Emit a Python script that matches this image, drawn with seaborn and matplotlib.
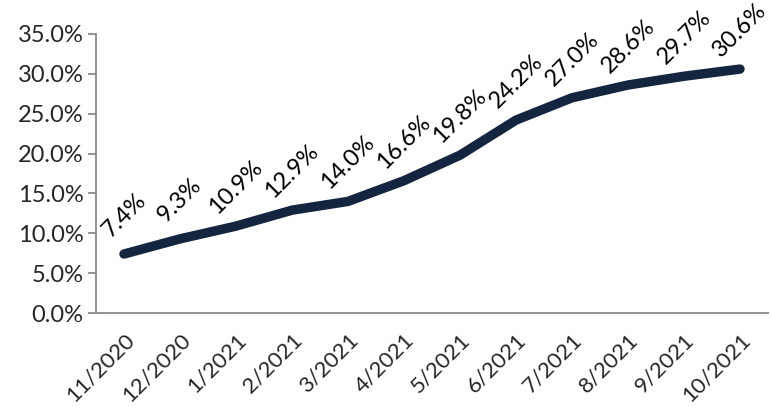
import matplotlib
matplotlib.use("Agg")
import matplotlib.pyplot as plt
import seaborn as sns
import pandas as pd
import numpy as np
from matplotlib.ticker import FixedLocator, PercentFormatter

months = ["11/2020", "12/2020", "1/2021", "2/2021", "3/2021", "4/2021",
          "5/2021", "6/2021", "7/2021", "8/2021", "9/2021", "10/2021"]
values = [7.4, 9.3, 10.9, 12.9, 14.0, 16.6, 19.8, 24.2, 27.0, 28.6, 29.7, 30.6]

sns.set_style("white")
plt.rcParams['font.family'] = ['Lato', 'DejaVu Sans']

df = pd.DataFrame({"idx": np.arange(len(months)), "val": values})

fig = plt.figure(figsize=(7.71, 4.12), dpi=100)
ax = fig.add_axes([96/771, 1 - 313/412, (768-96)/771, (313-34)/412])

sns.lineplot(data=df, x="idx", y="val", ax=ax, color="#14253f", linewidth=6.8,
             solid_capstyle="round", solid_joinstyle="round")

for i, v in enumerate(values):
    ax.annotate(f"{v:.1f}%", (i, v), xytext=(0, 28), textcoords="offset points",
                rotation=45, ha="center", va="center", fontsize=17, color="black",
                bbox=dict(boxstyle="square,pad=0.05", fc="white", ec="none"),
                zorder=5, annotation_clip=False)

ax.set_xlim(-0.5, len(months) - 0.5)
ax.set_ylim(0, 35)
ax.yaxis.set_major_locator(FixedLocator(np.arange(0, 36, 5)))
ax.yaxis.set_major_formatter(PercentFormatter(decimals=1))
ax.set_xticks(np.arange(len(months)))
ax.set_xticklabels(months, rotation=45, ha="right", rotation_mode="anchor")
ax.xaxis.set_minor_locator(FixedLocator(np.arange(-0.5, len(months), 1)))
ax.tick_params(axis="x", which="major", length=0, pad=12, labelsize=16)
ax.tick_params(axis="x", which="minor", length=6, width=1.3, color="#898989", direction="out")
ax.tick_params(axis="y", which="major", length=6, width=1.3, color="#898989", direction="out",
               left=True, labelsize=17, pad=3)
ax.set_xlabel("")
ax.set_ylabel("")
for s in ["top", "right"]:
    ax.spines[s].set_visible(False)
for s in ["left", "bottom"]:
    ax.spines[s].set_color("#898989")
    ax.spines[s].set_linewidth(1.3)

fig.savefig("out.png", dpi=100)
